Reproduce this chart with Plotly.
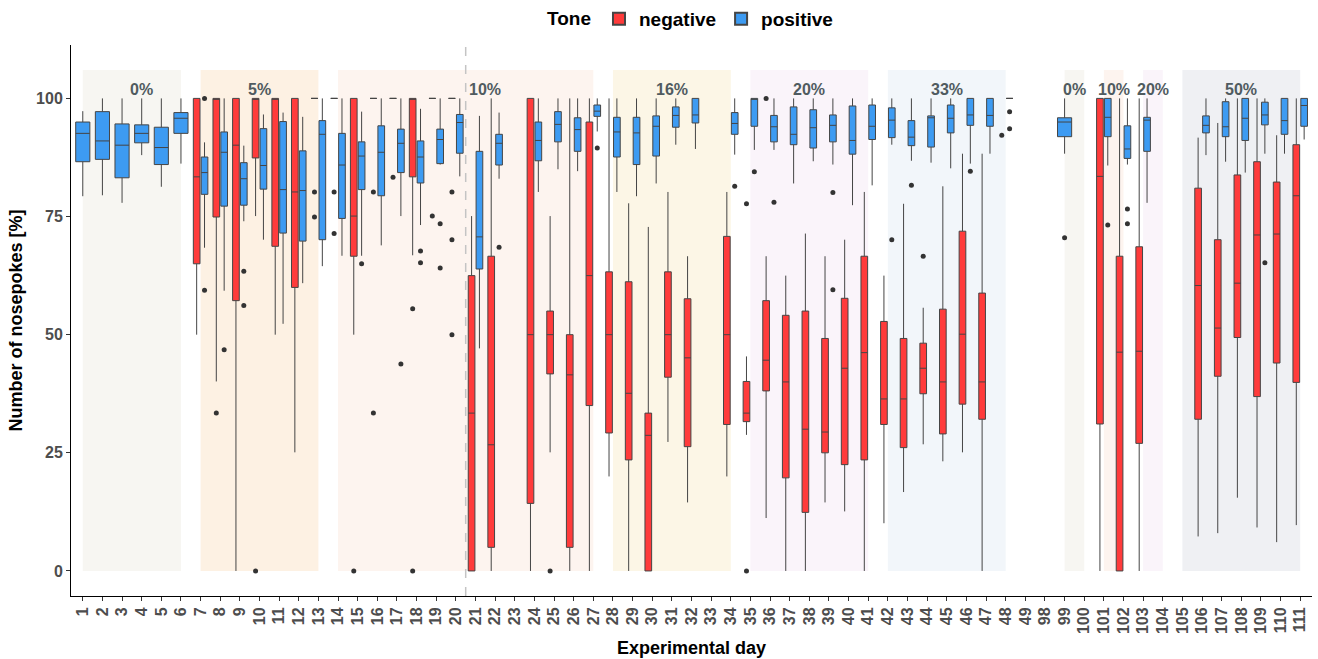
import plotly.graph_objects as go

# Experimental days shown on the x axis (one slot per day)
DAYS = list(range(1, 50)) + list(range(98, 112))

# Negative tone: per-day box statistics (% nosepokes)
NEG_DAY = [7, 8, 9, 10, 11, 12, 13, 14, 15, 16, 17, 18, 19, 20, 21, 22,
           24, 25, 26, 27, 28, 29, 30, 31, 32,
           34, 35, 36, 37, 38, 39, 40, 41, 42, 43, 44, 45, 46, 47,
           101, 102, 103, 106, 107, 108, 109, 110, 111]
NEG_LO = [50, 40.1, 0, 75.1, 50, 25.1, 100, 100, 50, 100, 100, 66.8, 100, 100, 0, 0,
          0, 25.1, 0, 0, 20, 0, 0, 27.3, 14.5,
          20, 28.8, 11.2, 0, 0, 14.5, 12.6, 0, 10.1, 16.7, 26.8, 23.2, 25.1, 0,
          0, 0, 0, 7.3, 8.0, 15.5, 9.2, 6.1, 9.7]
NEG_Q1 = [65.0, 74.9, 57.2, 87.4, 68.7, 60.0, 100, 100, 66.6, 100, 100, 83.4, 100, 100, 0, 5.0,
          14.3, 41.7, 5.0, 35.0, 29.2, 23.5, 0, 41.0, 26.3,
          31.0, 31.6, 38.1, 19.7, 12.4, 25.0, 22.5, 23.5, 31.0, 26.1, 37.5, 29.0, 35.3, 32.1,
          31.1, 0, 27.0, 32.1, 41.2, 49.4, 36.9, 44.0, 39.9]
NEG_MED = [83.4, 100, 90.1, 100, 100, 80.2, 100, 100, 75.1, 100, 100, 100, 100, 100, 33.4, 26.7,
           50.0, 50.0, 41.5, 62.5, 50.0, 37.6, 28.7, 50.0, 45.1,
           50.0, 33.4, 44.6, 40.0, 30.0, 29.4, 42.9, 46.2, 36.4, 36.4, 42.9, 40.0, 50.1, 40.0,
           83.5, 46.3, 46.5, 60.4, 51.4, 60.9, 71.1, 71.3, 79.4]
NEG_Q3 = [100, 100, 100, 100, 100, 100, 100, 100, 100, 100, 100, 100, 100, 100, 62.5, 66.6,
          100, 55.0, 50.0, 95.0, 63.3, 61.2, 33.4, 63.3, 57.6,
          70.8, 40.1, 57.2, 54.1, 55.0, 49.2, 57.7, 66.6, 52.8, 49.2, 48.2, 55.4, 71.9, 58.8,
          100, 66.6, 68.6, 81.0, 70.1, 83.8, 86.6, 82.3, 90.2]
NEG_HI = [100, 100, 100, 100, 100, 100, 100, 100, 100, 100, 100, 100, 100, 100, 75.1, 100,
          100, 75.1, 100, 100, 100, 77.8, 72.8, 80.2, 66.6,
          80.2, 45.4, 66.6, 62.5, 71.4, 66.6, 70.1, 80.2, 62.5, 77.7, 55.7, 81.4, 88.3, 88.3,
          100, 100, 100, 91.7, 94.8, 100, 100, 92.2, 100]
NEG_OUT_DAY = [8, 10, 13, 13, 14, 14, 15, 16, 16, 17, 18, 18, 19, 20, 20, 20,
               25, 35, 35, 36, 44, 48]
NEG_OUT_VAL = [33.4, 0, 80.2, 74.9, 80.2, 71.4, 0, 80.2, 33.4, 83.3, 55.5, 0, 75.1, 80.2, 70.1, 50.0,
               0, 77.7, 0, 100, 66.6, 92.2]

# Positive tone: per-day box statistics (% nosepokes)
POS_DAY = [1, 2, 3, 4, 5, 6, 7, 8, 9, 10, 11, 12, 13, 14, 15, 16, 17, 18, 19, 20, 21, 22,
           24, 25, 26, 27, 28, 29, 30, 31, 32,
           34, 35, 36, 37, 38, 39, 40, 41, 42, 43, 44, 45, 46, 47, 48,
           99, 101, 102, 103, 106, 107, 108, 109, 110, 111]
POS_LO = [79.3, 79.5, 77.9, 88.0, 81.3, 86.2, 68.4, 59.3, 74.0, 70.1, 52.3, 60.9, 64.5, 66.7, 66.7,
          68.9, 75.1, 73.2, 86.0, 83.5, 47.1, 83.0,
          80.2, 85.0, 84.6, 93.0, 80.2, 79.3, 82.0, 90.2, 89.3,
          88.1, 89.1, 89.1, 82.0, 86.7, 86.0, 77.4, 81.6, 90.2, 86.8, 86.4, 85.2, 86.2, 88.3, 100,
          88.3, 85.8, 86.0, 77.9, 88.0, 86.6, 84.3, 88.3, 88.3, 91.3]
POS_Q1 = [86.6, 87.1, 83.2, 90.6, 86.0, 92.6, 79.7, 77.2, 77.4, 80.8, 71.5, 69.8, 70.1, 74.6, 80.7,
          79.4, 84.3, 82.1, 86.2, 88.4, 63.9, 85.9,
          86.8, 90.8, 88.8, 96.2, 87.6, 86.0, 87.8, 93.9, 94.8,
          92.4, 94.1, 90.8, 90.2, 89.5, 90.8, 88.2, 91.3, 91.7, 90.0, 89.7, 92.7, 94.3, 94.1, 100,
          91.9, 91.9, 87.3, 88.8, 92.7, 91.9, 91.1, 94.4, 92.4, 94.1]
POS_MED = [92.6, 91.0, 90.1, 92.6, 89.6, 95.8, 84.3, 88.6, 83.0, 85.8, 80.7, 80.5, 92.4, 85.9, 87.8,
           88.6, 90.5, 87.6, 91.3, 94.9, 70.7, 90.5,
           91.1, 94.5, 93.4, 97.3, 92.9, 92.7, 94.1, 96.4, 96.5,
           94.7, 100, 94.0, 92.4, 93.8, 94.3, 91.1, 94.1, 95.4, 91.8, 95.9, 95.8, 96.5, 96.4, 100,
           95.0, 96.0, 89.3, 95.4, 94.3, 94.0, 95.8, 96.5, 95.3, 98.5]
POS_Q3 = [95.0, 97.2, 94.6, 94.4, 93.9, 97.0, 87.6, 92.9, 86.4, 93.6, 95.1, 88.9, 95.3, 92.6, 90.8,
          94.2, 93.5, 91.0, 93.5, 96.6, 88.8, 92.4,
          95.0, 97.2, 95.9, 98.6, 96.0, 96.0, 96.3, 98.2, 100,
          97.0, 100, 96.4, 98.2, 97.6, 96.5, 98.4, 98.6, 98.0, 95.3, 96.3, 98.6, 100, 100, 100,
          95.9, 100, 94.2, 96.0, 96.3, 99.3, 100, 99.2, 100, 100]
POS_HI = [97.3, 100, 100, 100, 100, 100, 90.7, 100, 90.0, 96.6, 97.0, 96.1, 100, 100, 97.2,
          100, 100, 97.8, 100, 100, 96.3, 97.0,
          100, 100, 100, 100, 100, 100, 100, 100, 100,
          100, 100, 100, 100, 100, 100, 100, 100, 100, 100, 100, 100, 100, 100, 100,
          100, 100, 100, 100, 100, 100, 100, 100, 100, 100]
POS_OUT_DAY = [7, 7, 8, 9, 9, 15, 17, 18, 18, 19, 19, 22, 27, 34, 35, 36, 39, 39, 42, 43, 46,
               48, 48, 99, 101, 102, 102, 109]
POS_OUT_VAL = [100, 59.4, 46.8, 63.4, 56.2, 65.0, 43.8, 67.7, 65.2, 73.5, 64.1, 68.5, 89.5, 81.4,
               84.5, 78.0, 80.1, 59.5, 70.1, 81.6, 84.6, 97.2, 93.6, 70.5, 73.2, 76.6, 73.5, 65.2]

# Concentration phases (background bands)
PHASE_LABEL = ["0%", "5%", "10%", "16%", "20%", "33%", "0%", "10%", "20%", "50%"]
PHASE_START = [1, 7, 14, 28, 35, 42, 99, 101, 103, 105]
PHASE_END = [6, 13, 27, 34, 41, 48, 100, 102, 104, 111]
PHASE_COLOR = ["#F7F6F2", "#FDF1E3", "#FDF4EF", "#FCF6E6", "#FAF4FA", "#F2F6FA",
               "#F7F6F2", "#FDF4EF", "#FAF4FA", "#EFF0F3"]
PHASE_LABEL_SHIFT = [0.5, 0, 1.0, 0, 0, 0, 0, 0, 0, 0]
SPLIT_AFTER_DAY = 20

RED = "#FF3B3B"
BLUE = "#3D9BF2"
EDGE = "#454545"
PAIR_W, SINGLE_W, OFF = 0.34, 0.72, 0.2

pos_of = {d: i for i, d in enumerate(DAYS)}
neg_present = set(NEG_DAY) | set(NEG_OUT_DAY)
pos_present = set(POS_DAY) | set(POS_OUT_DAY)
paired = neg_present & pos_present


def x_neg(d):
    return pos_of[d] - OFF if d in paired else pos_of[d]


def x_pos(d):
    return pos_of[d] + OFF if d in paired else pos_of[d]


def box(name, xs, lo, q1, med, q3, hi, width, color, show, group):
    return go.Box(
        x=xs, lowerfence=lo, q1=q1, median=med, q3=q3, upperfence=hi,
        width=width, fillcolor=color, line=dict(color=EDGE, width=1),
        whiskerwidth=0, boxpoints=False, name=name, legendgroup=group,
        showlegend=show, hoverinfo="skip",
    )


fig = go.Figure()

fig.add_trace(box("negative", [x_neg(d) for d in NEG_DAY], NEG_LO, NEG_Q1, NEG_MED,
                  NEG_Q3, NEG_HI, PAIR_W, RED, True, "neg"))

pair_idx = [i for i, d in enumerate(POS_DAY) if d in paired]
single_idx = [i for i, d in enumerate(POS_DAY) if d not in paired]
for sel, w, show in ((pair_idx, PAIR_W, True), (single_idx, SINGLE_W, False)):
    fig.add_trace(box("positive", [x_pos(POS_DAY[i]) for i in sel],
                      [POS_LO[i] for i in sel], [POS_Q1[i] for i in sel],
                      [POS_MED[i] for i in sel], [POS_Q3[i] for i in sel],
                      [POS_HI[i] for i in sel], w, BLUE, show, "pos"))

# outlying sessions
fig.add_trace(go.Scatter(
    x=[x_neg(d) for d in NEG_OUT_DAY] + [x_pos(d) for d in POS_OUT_DAY],
    y=NEG_OUT_VAL + POS_OUT_VAL, mode="markers",
    marker=dict(color="#333333", size=5), showlegend=False, hoverinfo="skip"))

shapes = []
annotations = []
for lab, s, e, c, sh in zip(PHASE_LABEL, PHASE_START, PHASE_END, PHASE_COLOR, PHASE_LABEL_SHIFT):
    x0, x1 = pos_of[s], pos_of[e]
    shapes.append(dict(type="rect", xref="x", yref="y", x0=x0, x1=x1, y0=0, y1=106,
                       fillcolor=c, line=dict(width=0), layer="below"))
    annotations.append(dict(x=(x0 + x1) / 2 + sh, y=101.8, xref="x", yref="y", text=lab,
                            showarrow=False, yanchor="middle",
                            font=dict(family="Liberation Sans, Arial", size=16,
                                      color="#505B60", weight="bold")))

split_x = (pos_of[SPLIT_AFTER_DAY] + pos_of[SPLIT_AFTER_DAY + 1]) / 2
shapes.append(dict(type="line", xref="x", yref="paper", x0=split_x, x1=split_x, y0=0, y1=1,
                   line=dict(color="#C4C4C4", width=1.5, dash="dash"), layer="above"))

FONT = "Liberation Sans, Arial, sans-serif"
fig.update_layout(
    width=1318, height=659,
    margin=dict(l=71, r=6, t=45, b=63, autoexpand=False),
    paper_bgcolor="white", plot_bgcolor="white",
    boxmode="overlay",
    shapes=shapes, annotations=annotations,
    font=dict(family=FONT),
    legend=dict(orientation="h", x=0.5, xanchor="center", y=1 + 26 / 551, yanchor="middle",
                title=dict(text="Tone", font=dict(size=19, color="black", weight="bold")),
                font=dict(size=19, color="black", weight="bold"),
                traceorder="normal", itemsizing="constant"),
    xaxis=dict(range=[-0.6, len(DAYS) - 0.4], tickmode="array",
               tickvals=list(range(len(DAYS))), ticktext=[str(d) for d in DAYS],
               tickangle=-90, ticks="outside", ticklen=4, tickcolor="#333333",
               showline=True, linecolor="black", linewidth=1, showgrid=False, zeroline=False,
               tickfont=dict(size=16, color="#4D4D4D", weight="bold"),
               title=dict(text="Experimental day", standoff=8,
                          font=dict(size=18, color="black", weight="bold")),
               automargin=False),
    yaxis=dict(range=[-5.3, 111.3], tickmode="array", tickvals=[0, 25, 50, 75, 100],
               ticks="outside", ticklen=4, tickcolor="#333333",
               showline=True, linecolor="black", linewidth=1, showgrid=False, zeroline=False,
               tickfont=dict(size=16, color="#4D4D4D", weight="bold"),
               title=dict(text="Number of nosepokes [%]", standoff=8,
                          font=dict(size=18, color="black", weight="bold")),
               automargin=False),
)

fig.write_html("out.html")
